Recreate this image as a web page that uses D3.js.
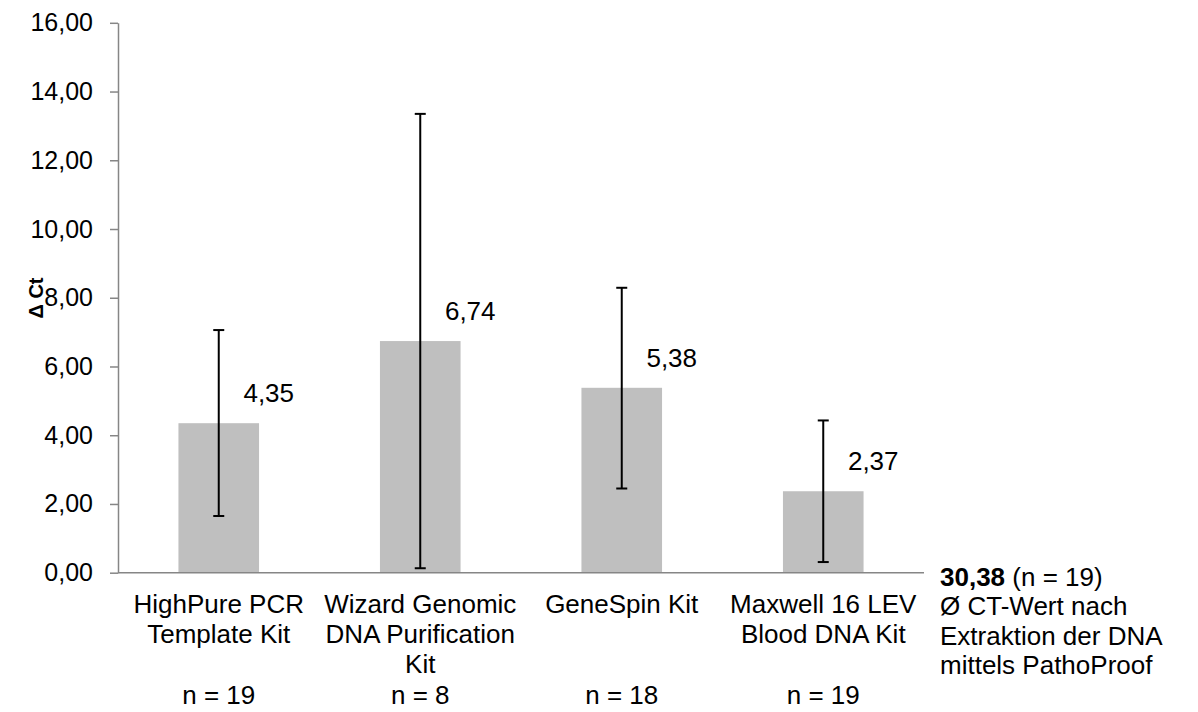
<!DOCTYPE html>
<html lang="de">
<head>
  <meta charset="utf-8">
  <title>Delta Ct nach Extraktionsmethode</title>
  <script src="https://d3js.org/d3.v7.min.js"></script>
  <style>
    body { margin: 0; background: #fff; }
    svg text { font-family: "Liberation Sans", Arial, sans-serif; fill: #000; }
    .axis path, .axis line { stroke: #868686; stroke-width: 1.5px; }
  </style>
</head>
<body>
  <div id="chart"></div>

  <script>
    // data
    var kits = ["HighPure PCR Template Kit", "Wizard Genomic DNA Purification Kit", "GeneSpin Kit", "Maxwell 16 LEV Blood DNA Kit"];
    var kitLines = [["HighPure PCR", "Template Kit"], ["Wizard Genomic", "DNA Purification", "Kit"], ["GeneSpin Kit"], ["Maxwell 16 LEV", "Blood DNA Kit"]];
    var deltaCt = [4.35, 6.74, 5.38, 2.37];
    var errUpper = [7.06, 13.35, 8.29, 4.43];
    var errLower = [1.65, 0.13, 2.45, 0.31];
    var sampleN = [19, 8, 18, 19];
    var yTicks = [0, 2, 4, 6, 8, 10, 12, 14, 16];
    var noteLines = ["Ø CT-Wert nach", "Extraktion der DNA", "mittels PathoProof"];
    var noteValue = 30.38, noteN = 19;

    var width = 1198, height = 712;
    var fs = 26;

    var de = d3.formatLocale({ decimal: ",", thousands: ".", grouping: [3], currency: ["", " €"] });
    var fmt = de.format(".2f");

    var svg = d3.select("#chart").append("svg")
      .attr("width", width)
      .attr("height", height);

    var x = d3.scaleBand().domain(kits).range([118, 924]);
    var y = d3.scaleLinear().domain([0, 16]).range([572.7, 22.8]);
    var barW = x.bandwidth() * 0.4;
    var cx = d => x(d.kit) + x.bandwidth() / 2;

    var rows = kits.map(function(k, i) {
      return { kit: k, lines: kitLines[i], v: deltaCt[i], hi: errUpper[i], lo: errLower[i], n: sampleN[i] };
    });

    // bars
    svg.append("g").selectAll("rect")
      .data(rows).enter().append("rect")
      .attr("x", d => cx(d) - barW / 2)
      .attr("y", d => y(d.v))
      .attr("width", barW)
      .attr("height", d => y(0) - y(d.v))
      .attr("fill", "#bfbfbf");

    // y axis
    var yAxis = svg.append("g")
      .attr("class", "axis")
      .attr("transform", "translate(118,0)")
      .call(d3.axisLeft(y).tickValues(yTicks).tickFormat(fmt).tickSize(8).tickPadding(17).tickSizeOuter(0));
    yAxis.selectAll("text").style("font-size", "25px");

    // x axis line
    svg.append("line")
      .attr("x1", 118).attr("x2", 924)
      .attr("y1", y(0)).attr("y2", y(0))
      .attr("stroke", "#868686").attr("stroke-width", 1.5);

    // error bars
    var eb = svg.append("g").selectAll("g")
      .data(rows).enter().append("g")
      .attr("stroke", "#000").attr("stroke-width", 2);
    eb.append("line")
      .attr("x1", cx).attr("x2", cx)
      .attr("y1", d => y(d.hi)).attr("y2", d => y(d.lo));
    eb.append("line")
      .attr("x1", d => cx(d) - 5.5).attr("x2", d => cx(d) + 5.5)
      .attr("y1", d => y(d.hi)).attr("y2", d => y(d.hi));
    eb.append("line")
      .attr("x1", d => cx(d) - 5.5).attr("x2", d => cx(d) + 5.5)
      .attr("y1", d => y(d.lo)).attr("y2", d => y(d.lo));

    // value labels
    svg.append("g").selectAll("text")
      .data(rows).enter().append("text")
      .attr("x", d => cx(d) + 50)
      .attr("y", d => y(d.v) - 21)
      .attr("text-anchor", "middle")
      .style("font-size", fs + "px")
      .text(d => fmt(d.v));

    // category labels
    var cat = svg.append("g").selectAll("text")
      .data(rows).enter().append("text")
      .attr("x", cx)
      .attr("y", 613)
      .attr("text-anchor", "middle")
      .style("font-size", fs + "px");
    cat.selectAll("tspan")
      .data(d => d.lines.map(l => ({ l: l, c: cx(d) })))
      .enter().append("tspan")
      .attr("x", d => d.c)
      .attr("dy", (d, i) => i === 0 ? 0 : 30)
      .text(d => d.l);

    // n labels
    svg.append("g").selectAll("text")
      .data(rows).enter().append("text")
      .attr("x", cx)
      .attr("y", 704)
      .attr("text-anchor", "middle")
      .style("font-size", fs + "px")
      .text(d => "n = " + d.n);

    // y title
    svg.append("text")
      .attr("transform", "translate(43,298) rotate(-90)")
      .attr("text-anchor", "middle")
      .style("font-size", "20px")
      .style("font-weight", "bold")
      .text("Δ Ct");

    // note on the right
    var note = svg.append("text")
      .attr("x", 940)
      .attr("y", 585.5)
      .style("font-size", fs + "px");
    note.append("tspan").style("font-weight", "bold").text(fmt(noteValue));
    note.append("tspan").text(" (n = " + noteN + ")");
    noteLines.forEach(function(t) {
      note.append("tspan").attr("x", 940).attr("dy", 29.6).text(t);
    });
  </script>
</body>
</html>
